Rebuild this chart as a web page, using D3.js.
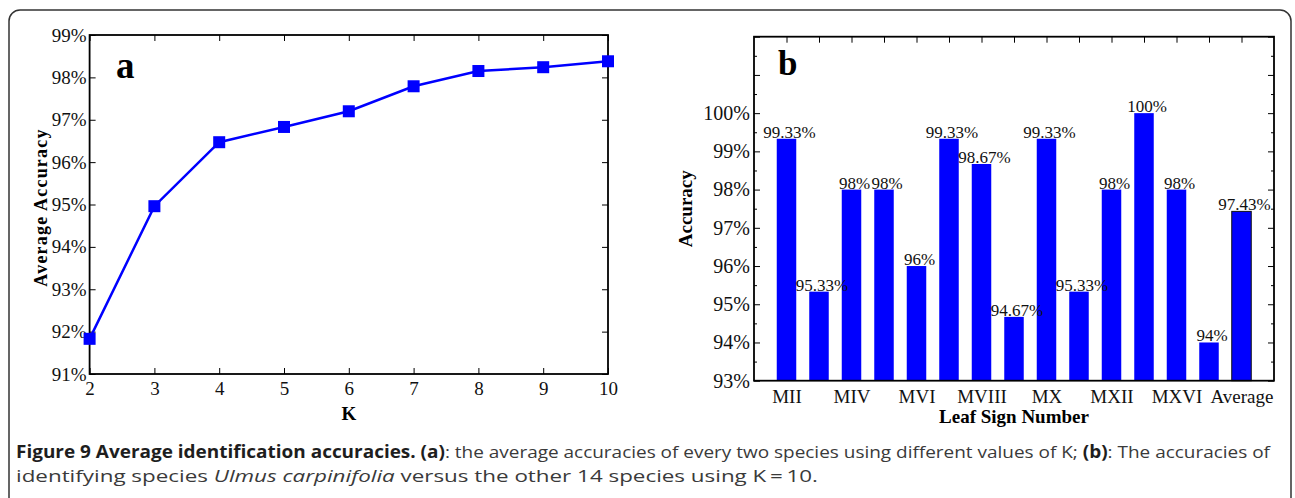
<!DOCTYPE html>
<html>
<head>
<meta charset="utf-8">
<script src="https://cdn.jsdelivr.net/npm/d3@7"></script>
<style>
    body { margin: 0; background: #fff; }
    svg { display: block; }
    .tick text { font-family: "Liberation Serif", "Times New Roman", serif; fill: #111; }
    .tick line { stroke: #000; stroke-width: 1; }
    .caption { font-family: "Open Sans", "Noto Sans", sans-serif; font-size: 17px; }
</style>
</head>
<body>
<script>
// chart a: average accuracy vs K
const kValues = [2, 3, 4, 5, 6, 7, 8, 9, 10];
const avgAccuracy = [91.83, 94.96, 96.47, 96.83, 97.2, 97.79, 98.15, 98.24, 98.38];
const avgTicks = [91, 92, 93, 94, 95, 96, 97, 98, 99];

// chart b: accuracy per leaf sign
const leafSigns = ["MII", "MIII", "MIV", "MV", "MVI", "MVII", "MVIII", "MIX", "MX", "MXI", "MXII", "MXIV", "MXVI", "MXVII", "Average"];
const shownSigns = ["MII", "MIV", "MVI", "MVIII", "MX", "MXII", "MXVI", "Average"];
const signAccuracy = [99.33, 95.33, 98, 98, 96, 99.33, 98.67, 94.67, 99.33, 95.33, 98, 100, 98, 94, 97.43];
const accTicks = [93, 94, 95, 96, 97, 98, 99, 100, 101, 102];
const accLabelled = [93, 94, 95, 96, 97, 98, 99, 100];

const W = 1295, H = 498;
const serif = '"Liberation Serif", "Times New Roman", serif';

const svg = d3.select("body").append("svg").attr("width", W).attr("height", H);

// outer figure frame (bottom runs off the page)
svg.append("rect")
    .attr("x", 9).attr("y", 10)
    .attr("width", 1282).attr("height", 510)
    .attr("rx", 11)
    .attr("fill", "none").attr("stroke", "#333").attr("stroke-width", 1.5);

function frame(g, box) {
    g.append("rect")
        .attr("x", box.x0).attr("y", box.y0)
        .attr("width", box.x1 - box.x0).attr("height", box.y1 - box.y0)
        .attr("fill", "none").attr("stroke", "#000").attr("stroke-width", 1.8);
}

function cleanAxis(sel) {
    sel.select(".domain").remove();
}

// ---------- chart a ----------
const boxA = {x0: 89.6, x1: 608, y0: 35, y1: 374};
const xA = d3.scaleLinear().domain([2, 10]).range([boxA.x0, boxA.x1]);
const yA = d3.scaleLinear().domain([91, 99]).range([boxA.y1, boxA.y0]);
const gA = svg.append("g");

gA.append("g").attr("transform", `translate(${boxA.x0},0)`)
    .call(d3.axisLeft(yA).tickValues(avgTicks).tickSize(-6).tickPadding(3).tickFormat(d => d + "%"))
    .call(cleanAxis)
    .selectAll("text").attr("font-size", 19);
gA.append("g").attr("transform", `translate(${boxA.x1},0)`)
    .call(d3.axisRight(yA).tickValues(avgTicks).tickSize(-6).tickFormat(""))
    .call(cleanAxis);
gA.append("g").attr("transform", `translate(0,${boxA.y1})`)
    .call(d3.axisBottom(xA).tickValues(kValues).tickSize(-6).tickPadding(8).tickFormat(d3.format("d")))
    .call(cleanAxis)
    .selectAll("text").attr("font-size", 19);
gA.append("g").attr("transform", `translate(0,${boxA.y0})`)
    .call(d3.axisTop(xA).tickValues(kValues).tickSize(-6).tickFormat(""))
    .call(cleanAxis);
frame(gA, boxA);

const line = d3.line().x((d, i) => xA(kValues[i])).y(d => yA(d));
gA.append("path").datum(avgAccuracy)
    .attr("d", line)
    .attr("fill", "none").attr("stroke", "#0000ff").attr("stroke-width", 2.5);
gA.selectAll("rect.marker").data(avgAccuracy).join("rect")
    .attr("class", "marker")
    .attr("x", (d, i) => xA(kValues[i]) - 6)
    .attr("y", d => yA(d) - 6)
    .attr("width", 12).attr("height", 12)
    .attr("fill", "#0000ff");

gA.append("text").text("a")
    .attr("x", 116).attr("y", 78)
    .attr("font-family", serif).attr("font-weight", "bold").attr("font-size", 37);
gA.append("text").text("Average Accuracy")
    .attr("transform", `translate(47,${(boxA.y0 + boxA.y1) / 2 + 3}) rotate(-90)`)
    .attr("text-anchor", "middle").attr("letter-spacing", 1.2)
    .attr("font-family", serif).attr("font-weight", "bold").attr("font-size", 18);
gA.append("text").text("K")
    .attr("x", xA(6)).attr("y", 420)
    .attr("text-anchor", "middle")
    .attr("font-family", serif).attr("font-weight", "bold").attr("font-size", 19);

// ---------- chart b ----------
const boxB = {x0: 754, x1: 1274, y0: 36.7, y1: 380.7};
const xB = d3.scaleLinear().domain([0, leafSigns.length + 1]).range([boxB.x0, boxB.x1]);
const yB = d3.scaleLinear().domain([93, 102]).range([boxB.y1, boxB.y0]);
const gB = svg.append("g");
const positions = leafSigns.map((d, i) => i + 1);
const minorTicks = accTicks.slice(0, -1).map(d => d + 0.5);

gB.append("g").attr("transform", `translate(${boxB.x0},0)`)
    .call(d3.axisLeft(yB).tickValues(accTicks).tickSize(-6).tickPadding(4)
        .tickFormat(d => accLabelled.includes(d) ? d + "%" : ""))
    .call(cleanAxis)
    .selectAll("text").attr("font-size", 20);
gB.append("g").attr("transform", `translate(${boxB.x0},0)`)
    .call(d3.axisLeft(yB).tickValues(minorTicks).tickSize(-3).tickFormat(""))
    .call(cleanAxis);
gB.append("g").attr("transform", `translate(${boxB.x1},0)`)
    .call(d3.axisRight(yB).tickValues(accTicks).tickSize(-6).tickFormat(""))
    .call(cleanAxis);
gB.append("g").attr("transform", `translate(${boxB.x1},0)`)
    .call(d3.axisRight(yB).tickValues(minorTicks).tickSize(-3).tickFormat(""))
    .call(cleanAxis);
gB.append("g").attr("transform", `translate(0,${boxB.y0})`)
    .call(d3.axisTop(xB).tickValues(positions).tickSize(-6).tickFormat(""))
    .call(cleanAxis);

const barW = xB(0.6) - xB(0);
gB.selectAll("rect.bar").data(signAccuracy).join("rect")
    .attr("class", "bar")
    .attr("x", (d, i) => xB(positions[i]) - barW / 2)
    .attr("y", d => yB(d))
    .attr("width", barW)
    .attr("height", d => yB(93) - yB(d))
    .attr("fill", "#0000ff")
    .attr("stroke", (d, i) => leafSigns[i] === "Average" ? "#111" : "none")
    .attr("stroke-width", 1);

gB.append("g").attr("transform", `translate(0,${boxB.y1})`)
    .call(d3.axisBottom(xB).tickValues(positions).tickSize(0).tickPadding(9)
        .tickFormat(p => shownSigns.includes(leafSigns[p - 1]) ? leafSigns[p - 1] : ""))
    .call(cleanAxis)
    .selectAll("text").attr("font-size", 19);
frame(gB, boxB);

gB.selectAll("text.value").data(signAccuracy).join("text")
    .attr("class", "value")
    .attr("x", (d, i) => xB(positions[i]) + 3)
    .attr("y", d => yB(d) - 1)
    .attr("text-anchor", "middle")
    .attr("font-family", serif).attr("font-size", 17).attr("fill", "#111")
    .text(d => d + "%");

gB.append("text").text("b")
    .attr("x", 778).attr("y", 75)
    .attr("font-family", serif).attr("font-weight", "bold").attr("font-size", 35);
gB.append("text").text("Accuracy")
    .attr("transform", `translate(692,${(boxB.y0 + boxB.y1) / 2}) rotate(-90)`)
    .attr("text-anchor", "middle")
    .attr("font-family", serif).attr("font-weight", "bold").attr("font-size", 19);
gB.append("text").text("Leaf Sign Number")
    .attr("x", (boxB.x0 + boxB.x1) / 2).attr("y", 423)
    .attr("text-anchor", "middle")
    .attr("font-family", serif).attr("font-weight", "bold").attr("font-size", 19);

// ---------- caption ----------
const cap1 = svg.append("text").attr("class", "caption").attr("x", 16).attr("y", 458)
    .attr("textLength", 1254).attr("lengthAdjust", "spacingAndGlyphs");
[["Figure 9 Average identification accuracies. (a)", "bold"],
 [": the average accuracies of every two species using different values of K; ", "normal"],
 ["(b)", "bold"],
 [": The accuracies of", "normal"]].forEach(([t, w]) => {
    cap1.append("tspan").text(t).attr("font-weight", w)
        .attr("fill", w === "bold" ? "#1e1e1e" : "#3a3a3a");
});
const cap2 = svg.append("text").attr("class", "caption").attr("x", 16).attr("y", 482)
    .attr("textLength", 802).attr("lengthAdjust", "spacingAndGlyphs").attr("fill", "#3a3a3a");
cap2.append("tspan").text("identifying species ");
cap2.append("tspan").text("Ulmus carpinifolia").attr("font-style", "italic");
cap2.append("tspan").text(" versus the other 14 species using K\u2009=\u200910.");
</script>
</body>
</html>
